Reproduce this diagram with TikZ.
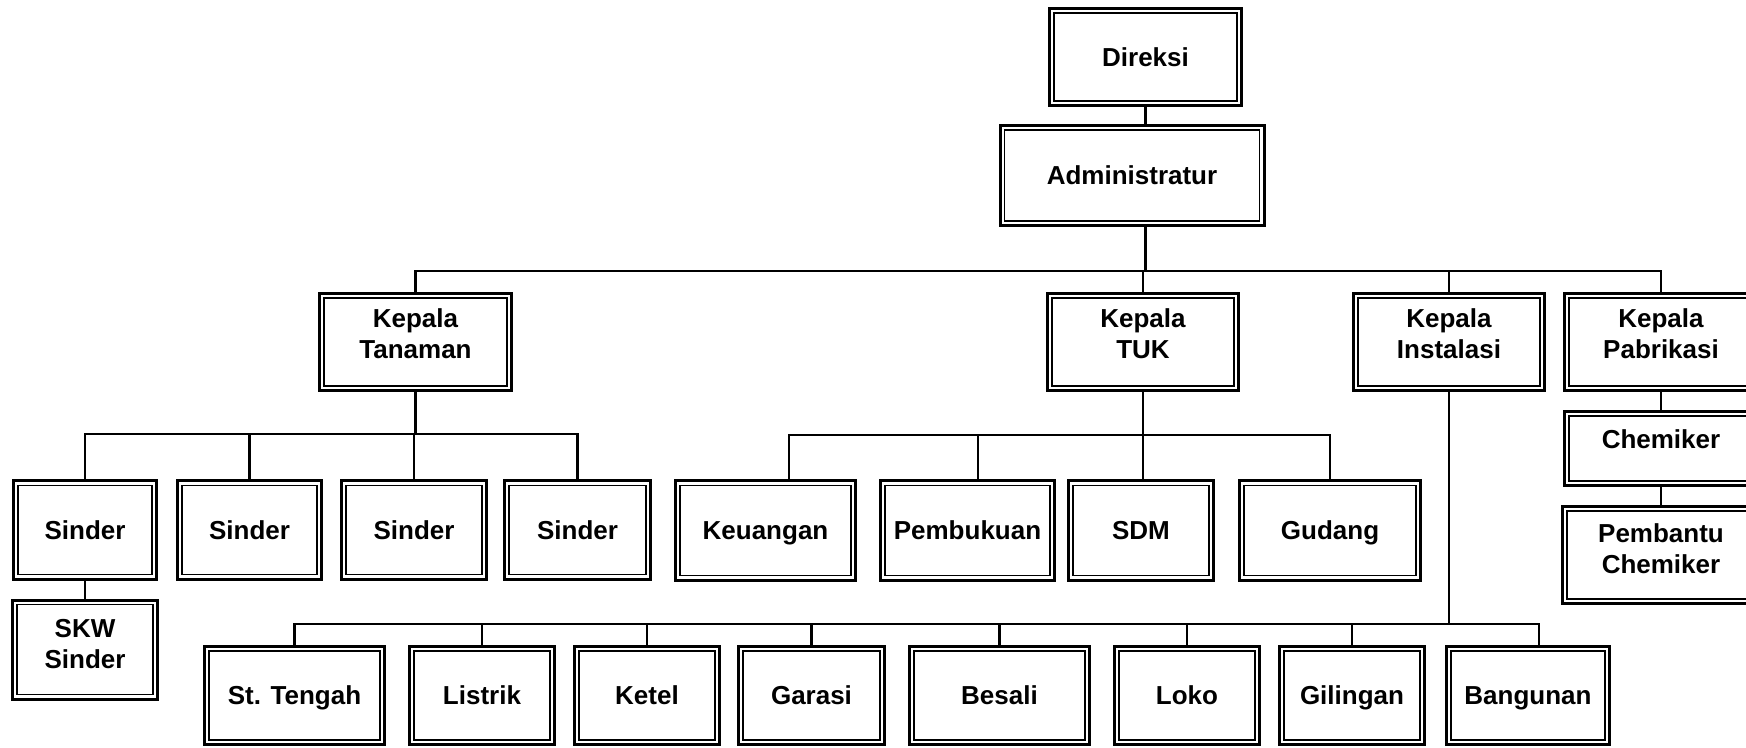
\documentclass[tikz,border=0pt]{standalone}
\usepackage{fontspec}
\setmainfont{Liberation Sans}
\usetikzlibrary{positioning}

\begin{document}
\begin{tikzpicture}[x=0.5pt, y=-0.5pt]
  \newcommand{\nodesep}[0]{9pt}
  \tikzstyle{unit}      = [rectangle, draw, line width=1.5pt, inner sep=0pt, align=center, text depth=0pt,
                           font=\bfseries\fontsize{13}{15.5}\selectfont,
                           path picture={\draw[line width=0.9pt] ([shift={(2.25pt,-2.25pt)}]path picture bounding box.north west) rectangle ([shift={(-2.25pt,2.25pt)}]path picture bounding box.south east);}]
  \tikzstyle{connector} = [line width=1.2pt]
  \tikzset{boxsize/.style 2 args={minimum width=#1*0.5pt-1.5pt, minimum height=#2*0.5pt-1.5pt}}
  \useasboundingbox (0,0) rectangle (1746,748);
  \clip (0,0) rectangle (1746,748);
  % top
  \node [unit, boxsize={195}{100}] (direksi)   at (1145.5,57)  {Direksi};
  \node [unit, boxsize={267}{103}] (admin)     at (1132,175.5) {Administratur};
  \node [unit, boxsize={195}{100}, text depth=8pt] (tanaman)   at (415.5,342) {Kepala\\Tanaman};
  \node [unit, boxsize={194}{100}, text depth=8pt] (tuk)       at (1143,342)  {Kepala\\TUK};
  \node [unit, boxsize={194}{100}, text depth=8pt] (instalasi) at (1449,342)  {Kepala\\Instalasi};
  \node [unit, boxsize={196}{100}, text depth=8pt] (pabrikasi) at (1661,342)  {Kepala\\Pabrikasi};
  \node [unit, boxsize={196}{77},  text depth=9.5pt, below = \nodesep of pabrikasi] (chemiker) {Chemiker};
  \node [unit, boxsize={200}{100}, text depth=6.5pt, below = \nodesep of chemiker]  (pembantu) {Pembantu\\Chemiker};
  % second row
  \node [unit, boxsize={146}{101}] (sinder1) at (85,530)    {Sinder};
  \node [unit, boxsize={147}{101}] (sinder2) at (249.5,530) {Sinder};
  \node [unit, boxsize={148}{101}] (sinder3) at (414,530)   {Sinder};
  \node [unit, boxsize={149}{101}] (sinder4) at (577.5,530) {Sinder};
  \node [unit, boxsize={148}{102}, text depth=6pt, below = 9pt of sinder1] (skw) {SKW\\Sinder};
  \node [unit, boxsize={183}{102}] (keuangan)  at (765.5,530.5) {Keuangan};
  \node [unit, boxsize={177}{102}] (pembukuan) at (967.5,530.5) {Pembukuan};
  \node [unit, boxsize={148}{102}] (sdm)       at (1141,530.5)  {SDM};
  \node [unit, boxsize={184}{102}] (gudang)    at (1330,530.5)  {Gudang};
  % third row
  \node [unit, boxsize={183}{101}] (stengah)  at (294.5,695.5) {St. Tengah};
  \node [unit, boxsize={148}{101}] (listrik)  at (482,695.5)   {Listrik};
  \node [unit, boxsize={148}{101}] (ketel)    at (647,695.5)   {Ketel};
  \node [unit, boxsize={149}{101}] (garasi)   at (811.5,695.5) {Garasi};
  \node [unit, boxsize={183}{101}] (besali)   at (999.5,695.5) {Besali};
  \node [unit, boxsize={148}{101}] (loko)     at (1187,695.5)  {Loko};
  \node [unit, boxsize={148}{101}] (gilingan) at (1352,695.5)  {Gilingan};
  \node [unit, boxsize={166}{101}] (bangunan) at (1528,695.5)  {Bangunan};
  % buses
  \coordinate (topbus)  at (0,271);
  \coordinate (tanbus)  at (0,434);
  \coordinate (tukbus)  at (0,435);
  \coordinate (instbus) at (0,624);
  \draw [connector] (direksi.south) -- (direksi.south |- admin.north);
  \draw [connector] (admin.south -| direksi) -- (topbus -| direksi);
  \draw [connector] (tanaman.north) |- (pabrikasi |- topbus) -- (pabrikasi.north);
  \draw [connector] (tuk |- topbus) -- (tuk.north);
  \draw [connector] (instalasi |- topbus) -- (instalasi.north);
  \draw [connector] (pabrikasi) edge (chemiker);
  \draw [connector] (chemiker)  edge (pembantu);
  \draw [connector] (tanaman.south) -- (tanaman |- tanbus);
  \draw [connector] (sinder1.north) |- (sinder4 |- tanbus) -- (sinder4.north);
  \draw [connector] (sinder2 |- tanbus) -- (sinder2.north);
  \draw [connector] (sinder3 |- tanbus) -- (sinder3.north);
  \draw [connector] (sinder1) edge (skw);
  \draw [connector] (tuk.south) -- (tuk |- tukbus);
  \draw [connector] ([xshift=11.75pt]keuangan.north) |- (gudang |- tukbus) -- (gudang.north);
  \draw [connector] ([xshift=5.25pt]pembukuan.north |- tukbus) -- ([xshift=5.25pt]pembukuan.north);
  \draw [connector] (tuk |- tukbus) -- (tuk |- sdm.north);
  \draw [connector] (instalasi.south) -- (instalasi |- instbus);
  \draw [connector] (stengah.north) |- ([xshift=5.5pt]bangunan |- instbus) -- ([xshift=5.5pt]bangunan.north);
  \draw [connector] (listrik |- instbus)  -- (listrik.north);
  \draw [connector] (ketel |- instbus)    -- (ketel.north);
  \draw [connector] (garasi |- instbus)   -- (garasi.north);
  \draw [connector] (besali |- instbus)   -- (besali.north);
  \draw [connector] (loko |- instbus)     -- (loko.north);
  \draw [connector] (gilingan |- instbus) -- (gilingan.north);
\end{tikzpicture}
\end{document}
